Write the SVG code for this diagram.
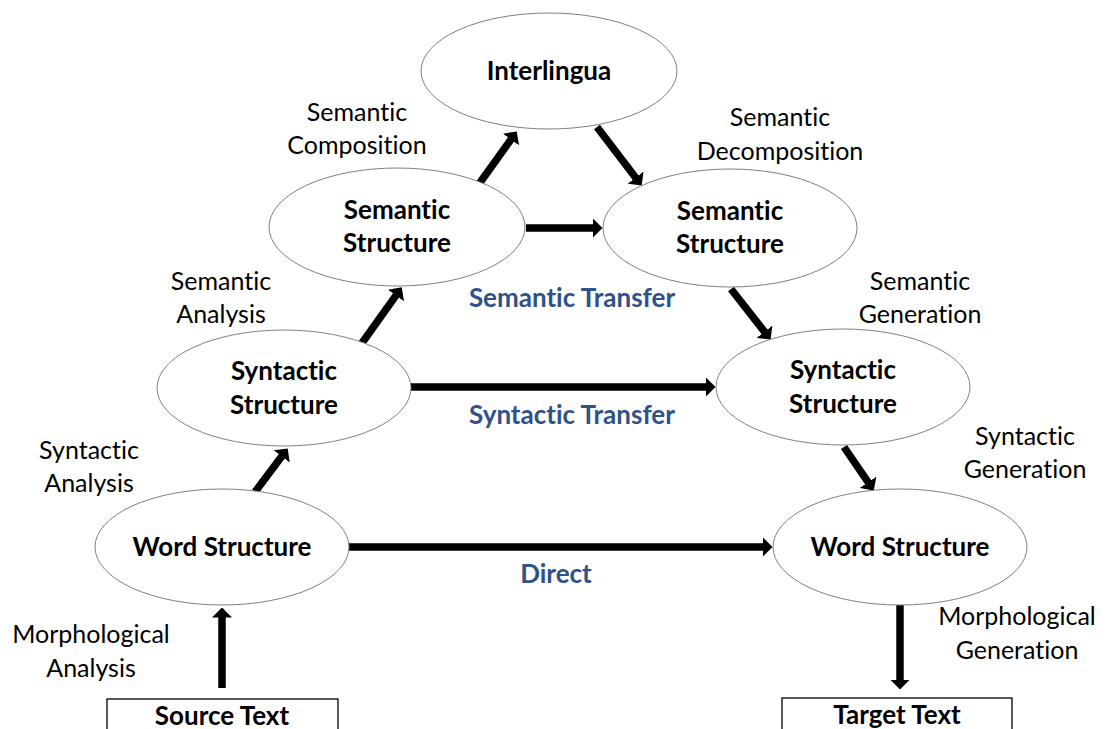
<svg xmlns="http://www.w3.org/2000/svg" width="1109" height="729" viewBox="0 0 1109 729">
<defs>
<marker id="ah" markerUnits="userSpaceOnUse" markerWidth="10" markerHeight="20" viewBox="0 0 10 20" refX="0.5" refY="10" orient="auto">
<path d="M0,0 L10,10 L0,20 Z" fill="#000"/>
</marker>
<style>
text{font-family:Lato,"Open Sans",sans-serif;text-anchor:middle;font-variant-ligatures:none;font-feature-settings:"liga" 0}
.node ellipse{fill:#fff;stroke:#7f7f7f;stroke-width:1}
.node rect{fill:#fff;stroke:#000;stroke-width:1.3}
.nt{font-weight:bold;font-size:26px;fill:#000}
.lb{font-size:25px;fill:#000}
.tr{font-weight:bold;font-size:26px;fill:#2f5288}
.cn line{stroke:#000;stroke-width:7.5;marker-end:url(#ah)}
</style>
</defs>
<rect width="1109" height="729" fill="#fff"/>
<g class="cn" id="connectors">
<line x1="222" y1="688" x2="222" y2="617"/>
<line x1="255" y1="492" x2="282" y2="456"/>
<line x1="362" y1="343" x2="396.2" y2="295.1"/>
<line x1="479" y1="184" x2="511.2" y2="139.1"/>
<line x1="597" y1="127" x2="635.9" y2="178"/>
<line x1="526" y1="228" x2="593" y2="228"/>
<line x1="731" y1="289" x2="764.8" y2="332.1"/>
<line x1="411" y1="387" x2="706" y2="387"/>
<line x1="844" y1="447" x2="868.4" y2="482.7"/>
<line x1="349" y1="547" x2="763" y2="547"/>
<line x1="900" y1="605" x2="900" y2="680"/>
</g>
<g class="node" id="interlingua"><ellipse cx="549" cy="71" rx="128" ry="58"/><text class="nt" x="549" y="80">Interlingua</text></g>
<g class="node" id="sem-src"><ellipse cx="397" cy="227" rx="128" ry="59"/><text class="nt" x="397" y="219">Semantic</text><text class="nt" x="397" y="252">Structure</text></g>
<g class="node" id="sem-tgt"><ellipse cx="730" cy="228" rx="127" ry="59"/><text class="nt" x="730" y="220">Semantic</text><text class="nt" x="730" y="253">Structure</text></g>
<g class="node" id="syn-src"><ellipse cx="284" cy="388" rx="127" ry="58"/><text class="nt" x="284" y="380">Syntactic</text><text class="nt" x="284" y="414">Structure</text></g>
<g class="node" id="syn-tgt"><ellipse cx="843" cy="387" rx="127" ry="58"/><text class="nt" x="843" y="379">Syntactic</text><text class="nt" x="843" y="413">Structure</text></g>
<g class="node" id="word-src"><ellipse cx="222" cy="547" rx="127" ry="58"/><text class="nt" x="222" y="556">Word Structure</text></g>
<g class="node" id="word-tgt"><ellipse cx="900" cy="547" rx="127" ry="58"/><text class="nt" x="900" y="556">Word Structure</text></g>
<g class="node" id="source"><rect x="107" y="699" width="231" height="40"/><text class="nt" x="222" y="725">Source Text</text></g>
<g class="node" id="target"><rect x="782" y="698" width="230" height="40"/><text class="nt" x="897" y="724">Target Text</text></g>
<g id="labels">
<text class="lb" x="357" y="121">Semantic</text><text class="lb" x="357" y="154">Composition</text>
<text class="lb" x="780" y="126">Semantic</text><text class="lb" x="780" y="160">Decomposition</text>
<text class="lb" x="221" y="290">Semantic</text><text class="lb" x="221" y="323">Analysis</text>
<text class="lb" x="920" y="290">Semantic</text><text class="lb" x="920" y="323">Generation</text>
<text class="lb" x="89" y="459">Syntactic</text><text class="lb" x="89" y="492">Analysis</text>
<text class="lb" x="1025" y="445">Syntactic</text><text class="lb" x="1025" y="478">Generation</text>
<text class="lb" x="91" y="643">Morphological</text><text class="lb" x="91" y="677">Analysis</text>
<text class="lb" x="1017" y="625">Morphological</text><text class="lb" x="1017" y="659">Generation</text>
<text class="tr" x="572" y="307">Semantic Transfer</text>
<text class="tr" x="572" y="424">Syntactic Transfer</text>
<text class="tr" x="556" y="583">Direct</text>
</g>
</svg>
